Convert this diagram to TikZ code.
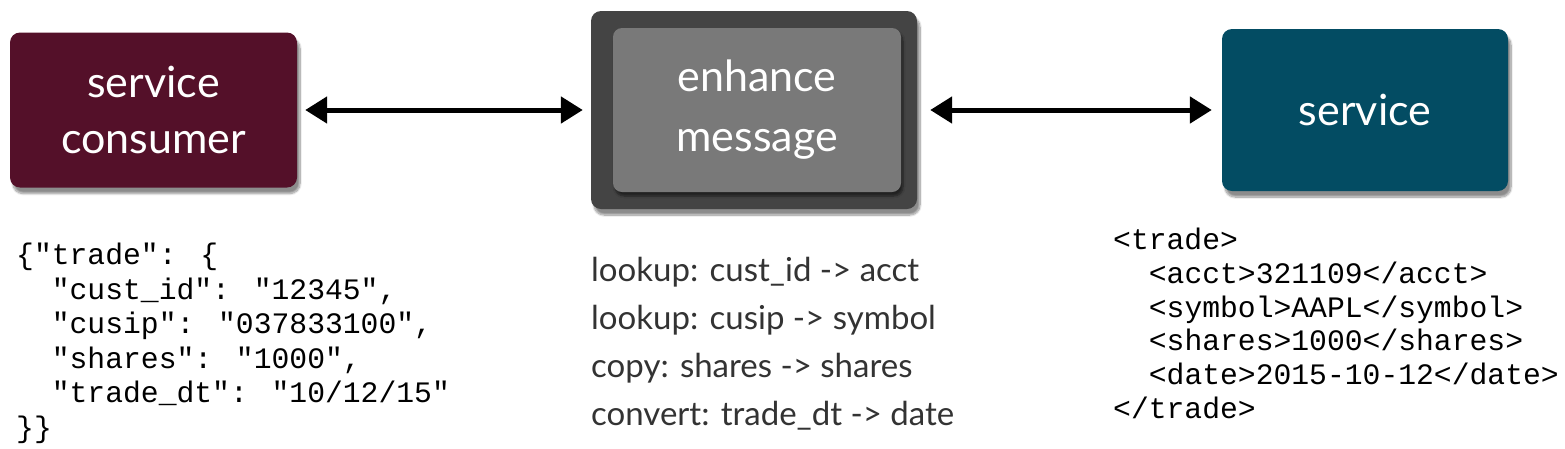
\documentclass[tikz,border=0pt]{standalone}
\usepackage{fontspec}
\setmainfont{Lato}
\newfontfamily\monofont{Liberation Mono}
\usetikzlibrary{arrows.meta,shadows.blur}
\definecolor{consumerc}{HTML}{541029}
\definecolor{outerc}{HTML}{444444}
\definecolor{innerc}{HTML}{797979}
\definecolor{servicec}{HTML}{034C63}
\definecolor{opsc}{HTML}{333333}
\begin{document}
\begin{tikzpicture}[x=1pt,y=-1pt,
  box/.style={rounded corners=10pt, inner sep=0pt, text=white, align=center,
    font=\fontsize{43}{56}\selectfont,
    blur shadow={shadow xshift=3pt, shadow yshift=-6pt, shadow blur steps=10, shadow opacity=45}},
  innerbox/.style={rounded corners=9pt, inner sep=0pt, text=white, align=center,
    font=\fontsize{43}{60}\selectfont,
    blur shadow={shadow xshift=2pt, shadow yshift=-4pt, shadow blur steps=6, shadow opacity=50}},
  link/.style={line width=5pt, {Triangle[length=22pt,width=26pt]}-{Triangle[length=22pt,width=26pt]}},
  code/.style={anchor=north west, inner sep=0pt, align=left, font=\monofont\fontsize{29.7}{34.5}\selectfont},
  xmlcode/.style={code, font=\monofont\fontsize{29.7}{33.7}\selectfont},
  ops/.style={anchor=north west, inner sep=0pt, align=left, text=opsc, font=\fontsize{33}{48}\selectfont}]
\useasboundingbox (0,0) rectangle (1565,448);
\node[box, fill=consumerc, minimum width=287pt, minimum height=155pt] (cons) at (153.5,110) {service\\consumer};
\node[box, fill=outerc, minimum width=326pt, minimum height=198pt] (enh) at (754,110) {};
\node[innerbox, fill=innerc, minimum width=288pt, minimum height=164pt] (enhin) at (757,110) {enhance\\message};
\node[box, fill=servicec, minimum width=286pt, minimum height=162pt] (serv) at (1365,110) {service};
\draw[link, shorten <=8pt, shorten >=8pt] (cons.east) -- (enh.west);
\draw[link, shorten <=13pt, shorten >=10pt] (enh.east) -- (serv.west);
\node[code] (json) at (16,243) {\{"trade": \{\\
\hphantom{xx}"cust\_id": "12345",\\
\hphantom{xx}"cusip": "037833100",\\
\hphantom{xx}"shares": "1000",\\
\hphantom{xx}"trade\_dt": "10/12/15"\\
\}\}};
\node[ops] (map) at (591,257) {lookup: cust\_id -> acct\\
lookup: cusip -> symbol\\
copy: shares -> shares\\
convert: trade\_dt -> date};
\node[xmlcode] (xml) at (1113,228) {<trade>\\
\hphantom{xx}<acct>321109</acct>\\
\hphantom{xx}<symbol>AAPL</symbol>\\
\hphantom{xx}<shares>1000</shares>\\
\hphantom{xx}<date>2015-10-12</date>\\
</trade>};
\end{tikzpicture}
\end{document}
